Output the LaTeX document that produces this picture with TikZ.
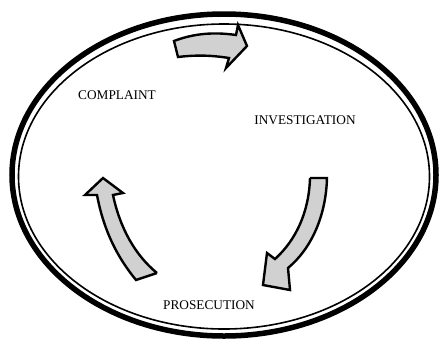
\documentclass[tikz,border=0pt]{standalone}
\usepackage{fontspec}
\setmainfont{Liberation Serif}
\begin{document}
\begin{tikzpicture}[x=1pt,y=-1pt,
  lbl/.style={inner sep=0pt, font=\fontsize{13.3}{14}\selectfont},
  fatarrow/.style={draw=black, line width=2.4pt, line join=miter, fill=black!18}]
\useasboundingbox (0,0) rectangle (441,341);
% double ellipse outline
\draw[line width=5.5pt] (224,175) ellipse [x radius=212pt, y radius=161pt];
\draw[line width=1.6pt] (224,176.5) ellipse [x radius=205.5pt, y radius=152.5pt];
% labels
\node[lbl] (complaint) at (117,95) {COMPLAINT};
\node[lbl] (investigation) at (305,120) {INVESTIGATION};
\node[lbl] (prosecution) at (209,305) {PROSECUTION};
% top arrow (complaint -> investigation)
\draw[fatarrow] (174,41) .. controls (195,33) and (215,32) .. (236,35)
  -- (238,25) -- (247,46) -- (226,68) -- (229,58)
  .. controls (210,55) and (195,55) .. (178,57) -- cycle;
% right arrow (investigation -> prosecution)
\draw[fatarrow] (310,178) -- (327,178)
  .. controls (326,215) and (312,248) .. (288,268)
  -- (290,290) -- (263,285) -- (267,253) -- (275,259)
  .. controls (296,240) and (309,212) .. (310,178);
% left arrow (prosecution -> complaint)
\draw[fatarrow] (157,273) -- (136,280)
  .. controls (118,258) and (104,232) .. (97,195)
  -- (85,195) -- (103,178) -- (123,193) -- (113,195)
  .. controls (120,228) and (135,255) .. (157,273);
\end{tikzpicture}
\end{document}
